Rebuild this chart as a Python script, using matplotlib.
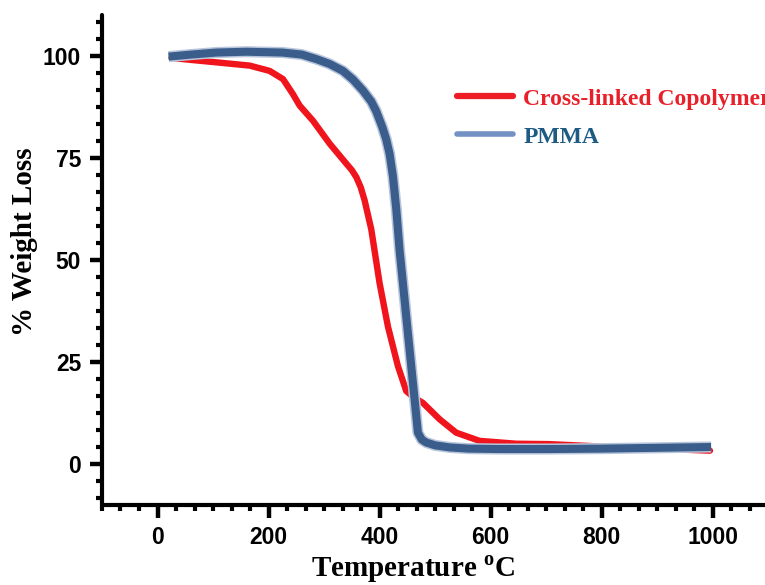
import numpy as np
import matplotlib
matplotlib.use('Agg')
import matplotlib.pyplot as plt
from matplotlib.lines import Line2D
from matplotlib.ticker import AutoMinorLocator

# TGA curves
temp_copolymer = [25, 60, 106, 166, 202, 226, 244, 256, 280, 310, 340, 350, 358, 366, 373, 385,
                  400, 415, 433, 448, 463, 478, 508, 538, 580, 646, 706, 800, 900, 995]
loss_copolymer = [99.5, 99.0, 98.4, 97.6, 96.3, 94.3, 90.6, 87.8, 84.1, 78.5, 73.6, 72.0, 70.3, 67.8, 64.6, 57.5,
                  44.3, 33.7, 24.0, 17.9, 16.2, 15.0, 11.0, 7.7, 5.7, 5.0, 4.9, 4.3, 3.8, 3.3]

temp_pmma = [20, 60, 106, 160, 225, 260, 286, 310, 334, 352, 370, 385, 394, 405, 412, 418,
             424, 430, 436, 445, 454, 463, 469, 476, 484, 500, 526, 560, 616, 706, 800, 900, 997]
loss_pmma = [99.8, 100.3, 100.8, 101.0, 100.8, 100.3, 99.2, 98.0, 96.3, 94.2, 91.5, 88.8, 86.4, 82.5, 79.5, 76.0,
             70.5, 62.5, 52.4, 40.2, 28.0, 15.9, 7.7, 6.0, 5.3, 4.6, 4.1, 3.8, 3.7, 3.7, 3.8, 4.0, 4.2]

series_labels = ['Cross-linked Copolymer', 'PMMA']
x_ticks = [0, 200, 400, 600, 800, 1000]
y_ticks = [0, 25, 50, 75, 100]

plt.rcParams['mathtext.fontset'] = 'custom'
plt.rcParams['mathtext.bf'] = 'Liberation Serif:bold'
plt.rcParams['mathtext.rm'] = 'Liberation Serif:bold'

fig = plt.figure(figsize=(7.65, 5.85), dpi=100)
ax = fig.add_axes([0.1333, 0.1368, 0.871, 0.8376])

red = '#f0141c'
blue = '#3b5d8b'

ax.plot(temp_copolymer, loss_copolymer, color=red, lw=4.6, solid_capstyle='round',
        solid_joinstyle='round', zorder=2)
# light fringe under the PMMA curve
ax.plot(temp_pmma, loss_pmma, color='#b8c6dc', lw=8, solid_capstyle='butt',
        solid_joinstyle='round', zorder=3)
ax.plot(temp_pmma, loss_pmma, color=blue, lw=5.8, solid_capstyle='butt',
        solid_joinstyle='round', zorder=4)

ax.set_xlim(-100, 1100)
ax.set_ylim(-10, 110)
ax.set_xticks(x_ticks)
ax.set_yticks(y_ticks)
ax.xaxis.set_minor_locator(AutoMinorLocator(6))
ax.yaxis.set_minor_locator(AutoMinorLocator(6))

for s in ['top', 'right']:
    ax.spines[s].set_visible(False)
for s in ['left', 'bottom']:
    ax.spines[s].set_linewidth(3)
    ax.spines[s].set_capstyle('round')

ax.tick_params(which='major', direction='out', length=9, width=3.2, pad=6)
ax.tick_params(which='minor', direction='out', length=4.5, width=3)
for lbl in ax.get_xticklabels() + ax.get_yticklabels():
    lbl.set_fontfamily('Liberation Sans')
    lbl.set_fontweight('bold')
    lbl.set_fontsize(16.5)

ax.set_xlabel(r'Temperature $^{\mathbf{o}}$C', fontfamily='Liberation Serif',
              fontweight='bold', fontsize=21)
ax.set_ylabel('% Weight Loss', fontfamily='Liberation Serif', fontweight='bold', fontsize=21)
ax.xaxis.set_label_coords(0.467, -0.10)
ax.yaxis.set_label_coords(-0.096, 0.538)

handles = [Line2D([], [], color='#ee1c24', lw=4.5, solid_capstyle='round'),
           Line2D([], [], color='#7392c3', lw=4.0, solid_capstyle='round')]
leg = fig.legend(handles, series_labels, loc='upper left', bbox_to_anchor=(0.597, 0.8495),
                 frameon=False, borderpad=0, borderaxespad=0, handlelength=2.4, handletextpad=0.42,
                 labelspacing=0.7, prop={'family': 'Liberation Serif', 'weight': 'bold', 'size': 17})
for t, c in zip(leg.get_texts(), ['#e8202a', '#1d5b84']):
    t.set_color(c)

fig.savefig('out.png', dpi=100)
